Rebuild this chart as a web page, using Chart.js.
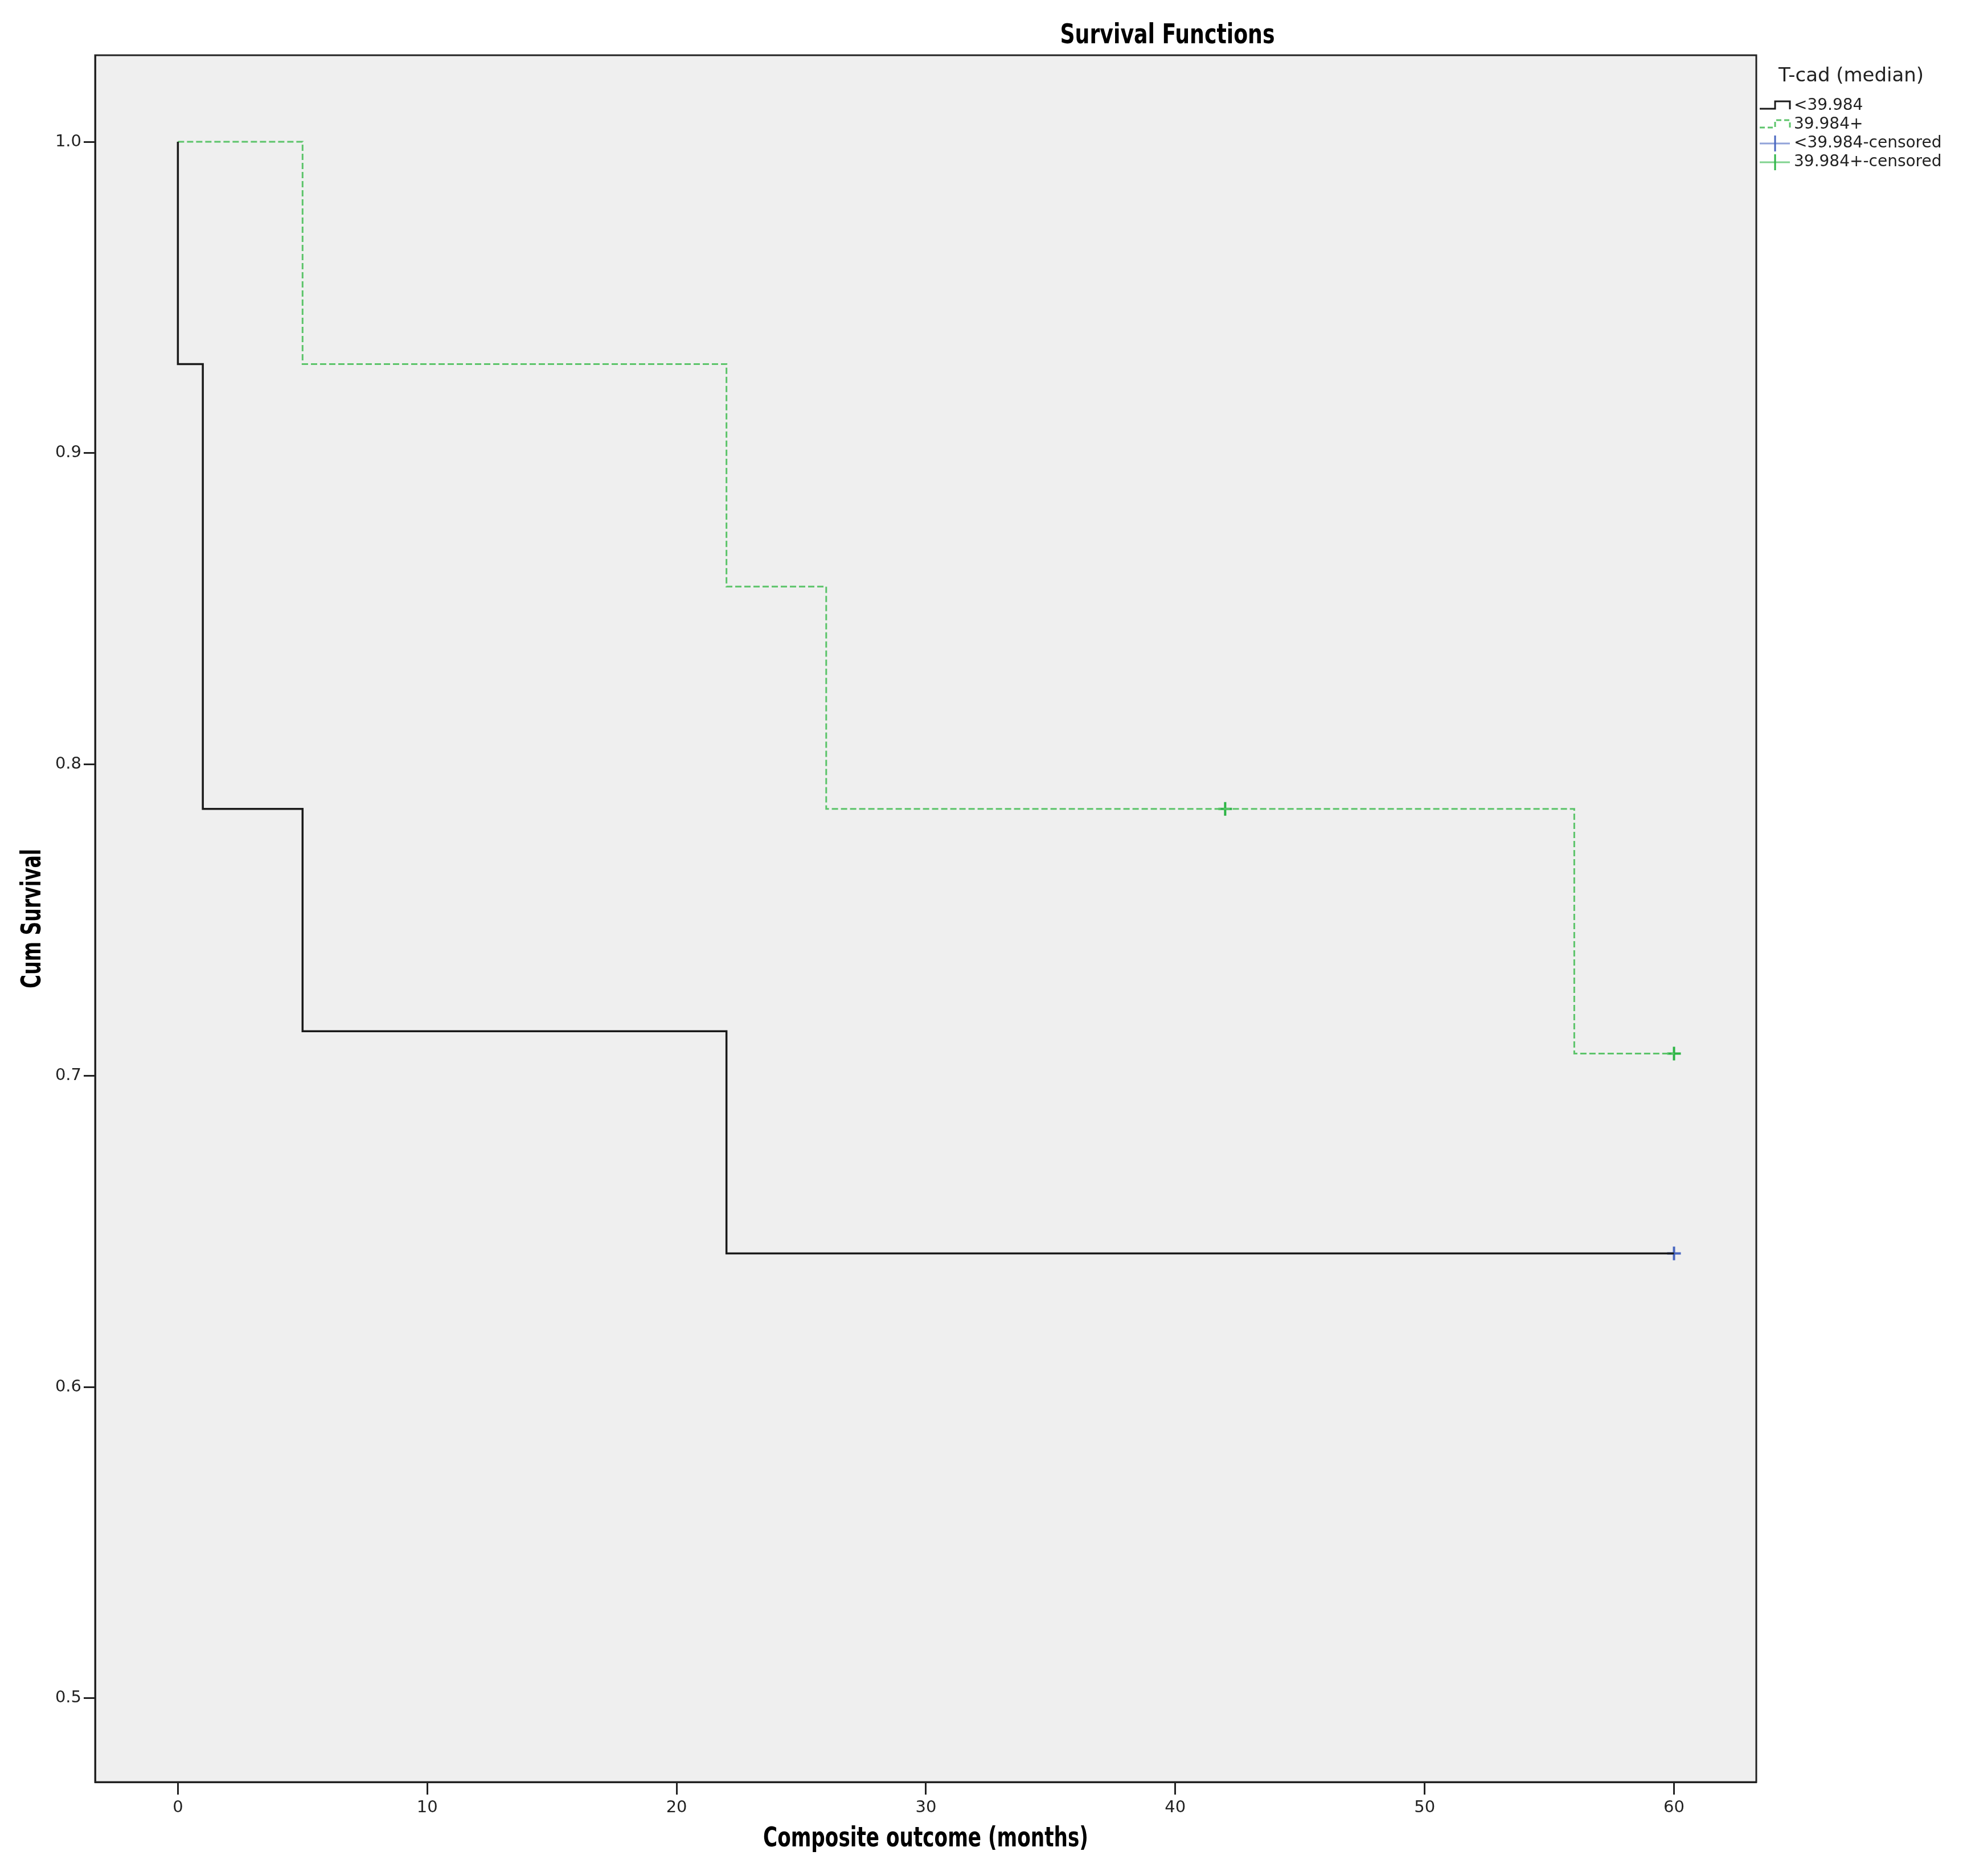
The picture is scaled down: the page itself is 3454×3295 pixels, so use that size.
<!DOCTYPE html>
<html>
<head>
<meta charset="utf-8">
<script src="https://cdn.jsdelivr.net/npm/chart.js@4.4.0/dist/chart.umd.min.js"></script>
<style>
  html, body { margin: 0; padding: 0; background: #fff; }
  canvas { display: block; }
</style>
</head>
<body>
<canvas id="kmChart" width="3454" height="3295"></canvas>
<script>
// values
var xTicks = [0, 10, 20, 30, 40, 50, 60];
var yTicks = [0.5, 0.6, 0.7, 0.8, 0.9, 1.0];

var lowTimes = [0, 0, 1, 5, 22, 60];
var lowSurvival = [1.0, 0.9286, 0.7857, 0.7143, 0.6429, 0.6429];
var highTimes = [0, 5, 22, 26, 56, 60];
var highSurvival = [1.0, 0.9286, 0.8571, 0.7857, 0.7071, 0.7071];

var lowCensoredTimes = [60];
var lowCensoredSurvival = [0.6429];
var highCensoredTimes = [42, 60];
var highCensoredSurvival = [0.7857, 0.7071];

var legendTitle = "T-cad (median)";
var legendLabels = ["<39.984", "39.984+", "<39.984-censored", "39.984+-censored"];

var BLACK = "#1a1a1a";
var GREEN_LINE = "#5cc46a";
var GREEN_MARK = "#2cb545";
var BLUE_MARK = "#4866c0";
var TITLE_FONT = '"Liberation Sans Narrow", "DejaVu Sans Condensed", sans-serif';

function toPoints(xs, ys) {
  var out = [];
  for (var i = 0; i < xs.length; i++) out.push({x: xs[i], y: ys[i]});
  return out;
}

// draws text squeezed to a given width (the source uses a condensed face)
function fitText(ctx, txt, cx, cy, width, size, rot) {
  ctx.save();
  ctx.font = "bold " + size + "px " + TITLE_FONT;
  ctx.fillStyle = "#000";
  ctx.textAlign = "center";
  ctx.textBaseline = "middle";
  var w = ctx.measureText(txt).width;
  ctx.translate(cx, cy);
  if (rot) ctx.rotate(rot);
  ctx.scale(width / w, 1);
  ctx.fillText(txt, 0, 0);
  ctx.restore();
}

var decor = {
  id: "decor",
  beforeDraw: function(chart) {
    var ctx = chart.ctx, a = chart.chartArea;
    ctx.save();
    ctx.fillStyle = "#fff";
    ctx.fillRect(0, 0, chart.width, chart.height);
    ctx.fillStyle = "#efefef";
    ctx.fillRect(a.left, a.top, a.right - a.left, a.bottom - a.top);
    ctx.restore();
  },
  afterDraw: function(chart) {
    var ctx = chart.ctx, a = chart.chartArea;
    ctx.save();
    ctx.strokeStyle = "#222";
    ctx.lineWidth = 3;
    ctx.strokeRect(a.left, a.top, a.right - a.left, a.bottom - a.top);
    ctx.restore();

    fitText(ctx, "Survival Functions", 2050, 64, 377, 48);
    fitText(ctx, "Composite outcome (months)", (a.left + a.right) / 2, 3231, 571, 48);
    fitText(ctx, "Cum Survival", 59, (a.top + a.bottom) / 2, 245, 48, -Math.PI / 2);

    // legend
    ctx.save();
    ctx.font = "34px " + TITLE_FONT;
    ctx.fillStyle = "#222";
    ctx.textBaseline = "middle";
    var tw = ctx.measureText(legendTitle).width;
    ctx.translate(3123, 134);
    ctx.scale(255 / tw, 1);
    ctx.fillText(legendTitle, 0, 0);
    ctx.restore();

    var rows = [186, 219, 252, 285];
    var x0 = 3090, xm = 3117, x1 = 3143;
    ctx.save();
    ctx.lineWidth = 3;
    // step symbols
    for (var i = 0; i < 2; i++) {
      var y = rows[i];
      ctx.strokeStyle = i === 0 ? BLACK : GREEN_LINE;
      ctx.setLineDash(i === 0 ? [] : [9, 5]);
      ctx.beginPath();
      ctx.moveTo(x0, y + 5);
      ctx.lineTo(xm, y + 5);
      ctx.lineTo(xm, y - 8);
      ctx.lineTo(x1, y - 8);
      ctx.lineTo(x1, y + 6);
      ctx.stroke();
    }
    ctx.setLineDash([]);
    // cross symbols
    var crossCols = [BLUE_MARK, GREEN_MARK];
    for (var j = 0; j < 2; j++) {
      var yy = rows[j + 2];
      ctx.strokeStyle = crossCols[j];
      ctx.globalAlpha = 0.6;
      ctx.beginPath();
      ctx.moveTo(x0, yy);
      ctx.lineTo(x1, yy);
      ctx.stroke();
      ctx.globalAlpha = 1;
      ctx.beginPath();
      ctx.moveTo(xm, yy - 14);
      ctx.lineTo(xm, yy + 14);
      ctx.stroke();
    }
    ctx.font = "28px 'DejaVu Sans'";
    ctx.fillStyle = "#222";
    ctx.textBaseline = "middle";
    for (var k = 0; k < legendLabels.length; k++) {
      ctx.fillText(legendLabels[k], 3150, rows[k]);
    }
    ctx.restore();
  }
};

Chart.defaults.font.family = "'DejaVu Sans'";
Chart.defaults.color = "#222";

var ctx = document.getElementById("kmChart");
var kmChart = new Chart(ctx, {
  type: "line",
  data: {
    datasets: [
      {
        label: legendLabels[0],
        data: toPoints(lowTimes, lowSurvival),
        borderColor: BLACK,
        borderWidth: 3.5,
        stepped: "before",
        pointRadius: 0,
        fill: false
      },
      {
        label: legendLabels[1],
        data: toPoints(highTimes, highSurvival),
        borderColor: GREEN_LINE,
        borderWidth: 3,
        borderDash: [11, 5],
        stepped: "before",
        pointRadius: 0,
        fill: false
      },
      {
        type: "scatter",
        label: legendLabels[2],
        data: toPoints(lowCensoredTimes, lowCensoredSurvival),
        pointStyle: "cross",
        pointRadius: 12,
        borderWidth: 4,
        borderColor: BLUE_MARK,
        showLine: false
      },
      {
        type: "scatter",
        label: legendLabels[3],
        data: toPoints(highCensoredTimes, highCensoredSurvival),
        pointStyle: "cross",
        pointRadius: 12,
        borderWidth: 4,
        borderColor: GREEN_MARK,
        showLine: false
      }
    ]
  },
  options: {
    responsive: false,
    animation: false,
    devicePixelRatio: 1,
    layout: { padding: { left: 0, top: 97, right: 370, bottom: 0 } },
    plugins: {
      legend: { display: false },
      title: { display: false },
      tooltip: { enabled: false }
    },
    scales: {
      x: {
        type: "linear",
        min: -3.32,
        max: 63.3,
        afterBuildTicks: function(s) { s.ticks = xTicks.map(function(v) { return {value: v}; }); },
        afterFit: function(s) { s.height = 165; },
        grid: { drawOnChartArea: false, tickLength: 22, tickWidth: 3, tickColor: "#222" },
        border: { color: "#222", width: 3 },
        ticks: { font: { size: 29 }, color: "#222", padding: 6, maxRotation: 0 }
      },
      y: {
        type: "linear",
        min: 0.4731,
        max: 1.0278,
        afterBuildTicks: function(s) { s.ticks = yTicks.map(function(v) { return {value: v}; }); },
        afterFit: function(s) { s.width = 167; },
        grid: { drawOnChartArea: false, tickLength: 20, tickWidth: 3, tickColor: "#222" },
        border: { color: "#222", width: 3 },
        ticks: {
          font: { size: 29 }, color: "#222", padding: 4,
          callback: function(v) { return Number(v).toFixed(1); }
        }
      }
    }
  },
  plugins: [decor]
});
</script>
</body>
</html>
